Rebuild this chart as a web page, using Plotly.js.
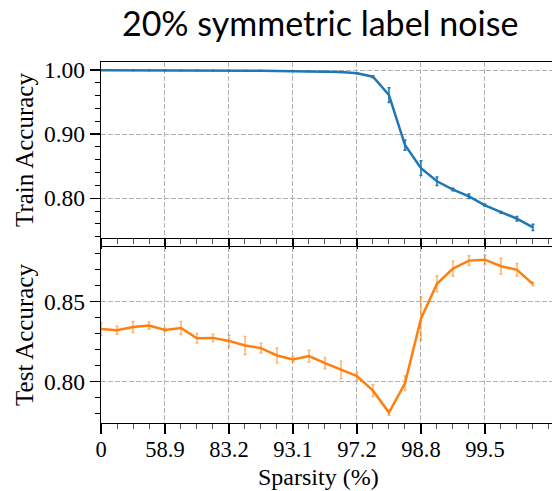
<!DOCTYPE html>
<html>
<head>
<meta charset="utf-8">
<script src="https://cdn.plot.ly/plotly-3.0.1.min.js"></script>
<style>html,body{margin:0;padding:0;background:#fff;}#chart{width:552px;height:491px;}</style>
</head>
<body>
<div id="chart"></div>
<script>
// Sparsity level index (x positions are indices into the sparsity schedule)
const sparsityIndex = [0,1,2,3,4,5,6,7,8,9,10,11,12,13,14,15,16,17,18,19,20,21,22,23,24,25,26,27];
const tickIndex = [0,4,8,12,16,20,24];
const tickLabels = ["0","58.9","83.2","93.1","97.2","98.8","99.5"];
const xTitle = "Sparsity (%)";

const trainAcc = [0.9998,0.9998,0.9997,0.9997,0.9996,0.9995,0.9994,0.9993,0.9991,0.9990,0.9988,0.9986,0.9984,0.9981,0.9977,0.9968,0.9948,0.9895,0.961,0.883,0.847,0.8265,0.8135,0.803,0.789,0.778,0.768,0.7545];
const trainErr = [0.0003,0.0003,0.0003,0.0003,0.0003,0.0003,0.0003,0.0003,0.0003,0.0003,0.0003,0.0003,0.0003,0.0003,0.0003,0.0005,0.0008,0.0015,0.0115,0.008,0.0115,0.0065,0.002,0.0036,0.0015,0.0015,0.0036,0.005];

const testAcc = [0.8329,0.8322,0.8342,0.8351,0.8324,0.8336,0.8272,0.8274,0.8255,0.8226,0.8210,0.8164,0.8139,0.8160,0.8116,0.8073,0.8035,0.7944,0.7807,0.7990,0.8394,0.8612,0.8707,0.8757,0.8763,0.8722,0.8699,0.8610];
const testErr = [0.004,0.0025,0.0035,0.0023,0.001,0.004,0.003,0.0023,0.0036,0.0056,0.003,0.0046,0.0017,0.0037,0.0035,0.0055,0.0025,0.0037,0.0017,0.0045,0.0135,0.005,0.0046,0.003,0.0027,0.005,0.004,0.001];

const serif = "Liberation Serif, Times New Roman, serif";
const blue = "#1f77b4", orange = "#ff7f0e";

const traces = [
  {x: sparsityIndex, y: trainAcc, type: "scatter", mode: "lines",
   line: {color: blue, width: 2.5},
   error_y: {type: "data", array: trainErr, visible: true, color: blue, thickness: 1.5, width: 1.5},
   xaxis: "x", yaxis: "y", showlegend: false, hoverinfo: "skip"},
  {x: sparsityIndex, y: testAcc, type: "scatter", mode: "lines",
   line: {color: orange, width: 2.5},
   error_y: {type: "data", array: testErr, visible: true, color: "rgba(255,127,14,0.6)", thickness: 1.5, width: 1.5},
   xaxis: "x2", yaxis: "y2", showlegend: false, hoverinfo: "skip"}
];

const grid = {showgrid: true, gridcolor: "#b0b0b0", gridwidth: 1, griddash: "5px,2px"};
const xBase = Object.assign({}, grid, {
  range: [0, 28.19], tickmode: "array", tickvals: tickIndex, ticktext: tickLabels,
  ticks: "outside", ticklen: 10, tickwidth: 1.3, tickcolor: "#000",
  showline: true, linecolor: "#000", linewidth: 1.3, mirror: true,
  zeroline: false, fixedrange: true,
  tickfont: {family: serif, size: 22.5, color: "#000"},
  minor: {tickmode: "linear", tick0: 0, dtick: 1, ticks: "outside", ticklen: 5, tickwidth: 1, tickcolor: "#555", showgrid: false}
});
const yBase = Object.assign({}, grid, {
  ticks: "outside", ticklen: 10, tickwidth: 1.3, tickcolor: "#000",
  showline: true, linecolor: "#000", linewidth: 1.3, mirror: false,
  zeroline: false, fixedrange: true,
  tickfont: {family: serif, size: 23.5, color: "#000"}
});

const layout = {
  width: 552, height: 491,
  margin: {l: 101, r: 0, t: 62, b: 68},
  paper_bgcolor: "#fff", plot_bgcolor: "#fff",
  title: {text: "20% symmetric label noise", font: {family: "Lato, Open Sans, sans-serif", size: 34, color: "#000"},
          xref: "container", x: 0.58, xanchor: "center", yref: "container", y: 0.95, yanchor: "middle"},
  xaxis: Object.assign({}, xBase, {domain: [0, 1], anchor: "y", showticklabels: false}),
  yaxis: Object.assign({}, yBase, {domain: [0.5125, 1], anchor: "x", range: [0.738, 1.0125],
    tickvals: [0.80, 0.90, 1.00], ticktext: ["0.80","0.90","1.00"],
    minor: {tickmode: "linear", tick0: 0.74, dtick: 0.02, ticks: "outside", ticklen: 5, tickwidth: 1, tickcolor: "#000", showgrid: false},
    title: {text: "Train Accuracy", font: {family: serif, size: 25, color: "#000"}, standoff: 3}}),
  xaxis2: Object.assign({}, xBase, {domain: [0, 1], anchor: "y2", matches: "x", ticklabelstandoff: -4}),
  yaxis2: Object.assign({}, yBase, {domain: [0, 0.4875], anchor: "x2", range: [0.7742, 0.8842],
    tickvals: [0.80, 0.85], ticktext: ["0.80","0.85"],
    minor: {tickmode: "linear", tick0: 0.77, dtick: 0.01, ticks: "outside", ticklen: 5, tickwidth: 1, tickcolor: "#000", showgrid: false},
    title: {text: "Test Accuracy", font: {family: serif, size: 25, color: "#000"}, standoff: 3}}),
  annotations: [
    {text: xTitle, xref: "paper", yref: "paper", x: 0.483, y: -0.187, xanchor: "center", yanchor: "bottom",
     showarrow: false, borderpad: 0, font: {family: serif, size: 24, color: "#000"}}
  ]
};

Plotly.newPlot("chart", traces, layout, {staticPlot: true, displayModeBar: false});
</script>
</body>
</html>
